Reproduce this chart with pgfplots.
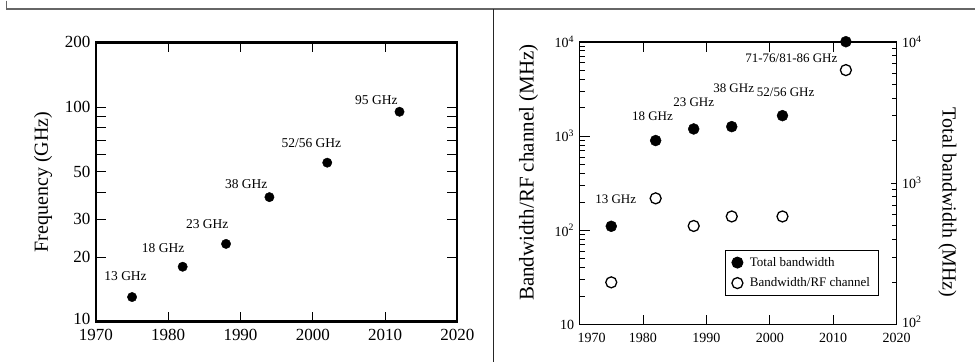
\documentclass[border=0pt]{standalone}
\usepackage{pgfplots}
\pgfplotsset{compat=1.18}
\usepackage{fontspec}
\setmainfont{Liberation Serif}
\begin{document}
\begin{tikzpicture}[x=1pt,y=1pt]
\path (0,0) rectangle (976,362);
\draw[line width=1.5pt, black!60] (6.5,362) -- (6.5,353.5) -- (976,353.5);
\draw[line width=1.2pt, black!85] (493.5,353.5) -- (493.5,0);

% ---------- left panel ----------
\begin{axis}[at={(96pt,41pt)}, anchor=south west, scale only axis,
  width=361.7pt, height=279.3pt,
  xmin=1970, xmax=2020, ymode=log, ymin=10, ymax=200, clip=false,
  xtick={1970,1980,1990,2000,2010,2020},
  xticklabels={1970,1980,1990,2000,2010,\raisebox{2pt}{2020}},
  ytick={10,20,30,50,100,200},
  yticklabels={\raisebox{6pt}{10},20,30,50,100,200},
  minor ytick={40,60,70,80,90},
  tick align=inside, major tick length=10pt, minor tick length=10pt,
  axis line style={line width=2.2pt},
  every tick/.style={black, line width=0.8pt},
  xticklabel style={font=\fontsize{17}{17}\selectfont, yshift=-4pt},
  yticklabel style={font=\fontsize{17}{17}\selectfont, xshift=-2pt},
  every axis y label/.style={at={(axis description cs:-0.1465,0.5)}, rotate=90, anchor=center},
  ylabel={\fontsize{20}{20}\selectfont Frequency (GHz)},
]
\addplot[only marks, mark=*, mark size=4.7pt, black] coordinates {
  (1975,13) (1982,18) (1988,23) (1994,38) (2002,55) (2012,95)};
\begin{scope}[font=\fontsize{13.5}{13.5}\selectfont]
\node at (axis cs:1974.1,16.2) {13 GHz};
\node at (axis cs:1979.3,21.9) {18 GHz};
\node at (axis cs:1985.4,28.6) {23 GHz};
\node at (axis cs:1990.8,43.9) {38 GHz};
\node at (axis cs:1999.8,68.2) {52/56 GHz};
\node at (axis cs:2008.8,108) {95 GHz};
\end{scope}
\end{axis}

% ---------- right panel, left axis ----------
\begin{axis}[at={(580pt,38pt)}, anchor=south west, scale only axis,
  width=317.3pt, height=283pt,
  xmin=1970, xmax=2020, ymode=log, ymin=10, ymax=10000, clip=false,
  xtick={1970,1980,1990,2000,2010,2020},
  xticklabels={\hspace*{24pt}1970,1980,1990,2000,2010,2020},
  ytick={10,100,1000,10000},
  yticklabels={10,10\textsuperscript{2},10\textsuperscript{3},10\textsuperscript{4}},
  ytick pos=left,
  tick align=inside, major tick length=10pt, minor tick length=5pt,
  axis line style={line width=1.6pt},
  every tick/.style={black, line width=0.7pt},
  xticklabel style={font=\fontsize{14}{14}\selectfont, yshift=-5pt},
  yticklabel style={font=\fontsize{14}{14}\selectfont, xshift=-2pt},
  every axis y label/.style={at={(axis description cs:-0.161,0.537)}, rotate=90, anchor=center},
  ylabel={\fontsize{21}{21}\selectfont Bandwidth/RF channel (MHz)},
  legend style={at={(0.943,0.264)}, anchor=north east, draw=black, line width=1pt,
    font=\fontsize{13}{13}\selectfont, inner xsep=6pt, inner ysep=5pt, row sep=6pt},
  legend cell align=left,
  /tikz/every odd column/.append style={column sep=5pt},
]
\addlegendimage{only marks, mark=*, mark size=5.5pt, black}
\addlegendentry{Total bandwidth}
\addplot[only marks, mark=o, mark size=5.5pt, black, mark options={line width=1.3pt}] coordinates {
  (1975,28) (1982,218) (1988,111) (1994,140) (2002,140) (2012,5000)};
\addlegendentry{Bandwidth/RF channel}
\begin{scope}[font=\fontsize{13}{13}\selectfont]
\node at (axis cs:1975.7,211) {13 GHz};
\node at (axis cs:1981.5,1603) {18 GHz};
\node at (axis cs:1988.0,2256) {23 GHz};
\node at (axis cs:1994.3,3177) {38 GHz};
\node at (axis cs:2002.5,2879) {52/56 GHz};
\node at (axis cs:2003.4,6607) {71-76/81-86 GHz};
\end{scope}
\end{axis}

% ---------- right panel, right axis ----------
\begin{axis}[at={(580pt,38pt)}, anchor=south west, scale only axis,
  width=317.3pt, height=283pt,
  xmin=1970, xmax=2020, ymode=log, ymin=100, ymax=10000, clip=false,
  axis x line=none, axis y line*=right,
  ytick={100,1000,10000},
  yticklabels={\raisebox{5pt}{10\textsuperscript{2}},10\textsuperscript{3},10\textsuperscript{4}},
  tick align=inside, major tick length=6pt, minor tick length=5pt,
  axis line style={line width=1.6pt},
  every tick/.style={black, line width=0.7pt},
  yticklabel style={font=\fontsize{14}{14}\selectfont, xshift=2pt},
  every axis y label/.style={at={(axis description cs:1.16,0.431)}, rotate=-90, anchor=center},
  ylabel={\fontsize{20}{20}\selectfont Total bandwidth (MHz)},
]
\addplot[only marks, mark=*, mark size=5.5pt, black] coordinates {
  (1975,495) (1982,2000) (1988,2415) (1994,2508) (2002,3000) (2012,10000)};
\end{axis}
\end{tikzpicture}
\end{document}
